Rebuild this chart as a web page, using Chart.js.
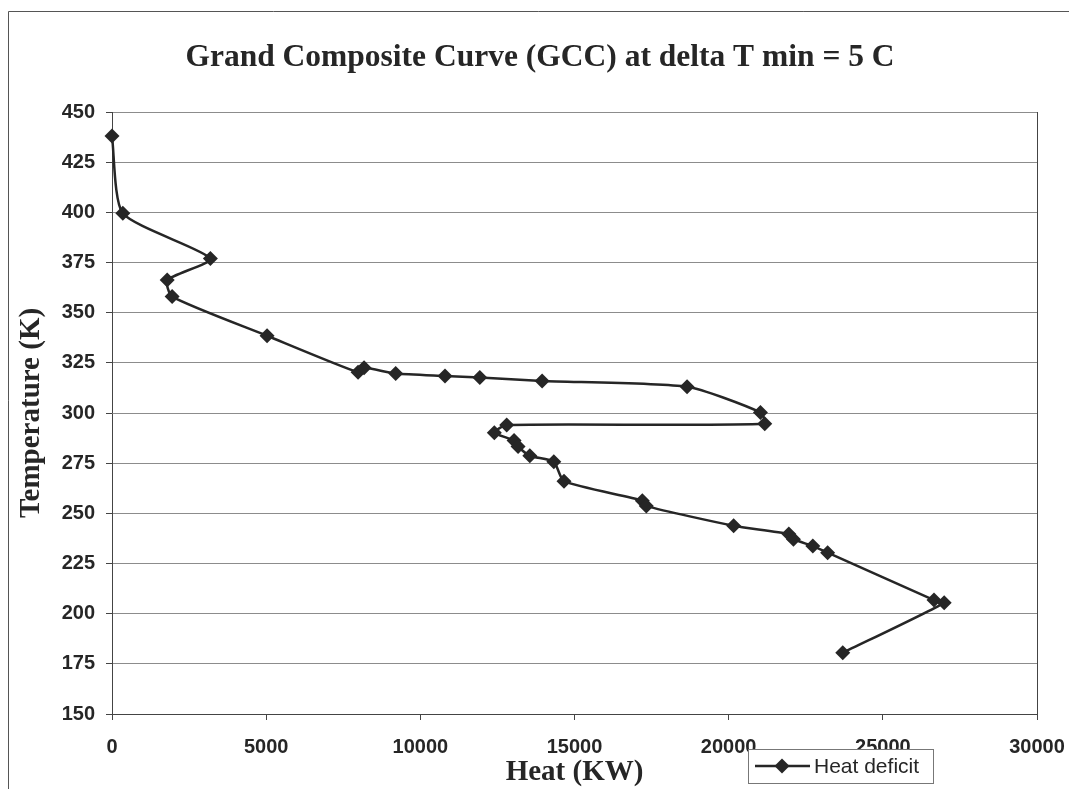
<!DOCTYPE html>
<html>
<head>
<meta charset="utf-8">
<title>Grand Composite Curve</title>
<script src="https://cdn.jsdelivr.net/npm/chart.js@4.4.0/dist/chart.umd.min.js"></script>
<style>
  html, body { margin: 0; padding: 0; background: #fff; }
  #chart { display: block; }
</style>
</head>
<body>
<canvas id="chart" width="1069" height="789"></canvas>
<script>
// values (heat in KW, temperature in K), in drawing order
const heatValues = [0, 350, 3190, 1790, 1950, 5030, 7980, 8175, 9200, 10800, 11930, 13950, 18650,
  21030, 21170, 12800, 12400, 13040, 13170, 13550, 14330, 14660, 17200, 17330, 20160,
  21950, 22100, 22730, 23210, 26660, 26990, 23700];
const tempValues = [438, 399.5, 377, 366.3, 358, 338.5, 320.3, 322.5, 319.7, 318.5, 317.7, 316, 313.1,
  300.3, 294.6, 294, 290.2, 286.3, 283.3, 278.7, 275.7, 266, 256.3, 253.6, 243.8,
  239.7, 237.1, 233.7, 230.4, 206.8, 205.4, 180.5];
const heatTicks = [0, 5000, 10000, 15000, 20000, 25000, 30000];
const tempTicks = [150, 175, 200, 225, 250, 275, 300, 325, 350, 375, 400, 425, 450];
const seriesName = 'Heat deficit';
const chartTitle = 'Grand Composite Curve (GCC) at delta T min = 5 C';

const points = heatValues.map((h, i) => ({ x: h, y: tempValues[i] }));

const ink = '#262626';
const serif = '"Liberation Serif", "Times New Roman", serif';
const sans = '"Liberation Sans", Arial, sans-serif';

// outer frame, title, right border of the plot and the boxed legend
const framePlugin = {
  id: 'frame',
  beforeDraw(chart) {
    const ctx = chart.ctx;
    ctx.save();
    ctx.fillStyle = '#fff';
    ctx.fillRect(0, 0, chart.width, chart.height);
    ctx.strokeStyle = '#555';
    ctx.lineWidth = 1;
    ctx.beginPath();
    ctx.moveTo(8.5, chart.height);
    ctx.lineTo(8.5, 11.5);
    ctx.lineTo(chart.width, 11.5);
    ctx.stroke();

    ctx.fillStyle = ink;
    ctx.font = 'bold 31.5px ' + serif;
    ctx.textAlign = 'center';
    ctx.textBaseline = 'alphabetic';
    ctx.fillText(chartTitle, 540, 66);
    ctx.restore();
  },
  afterDraw(chart) {
    const ctx = chart.ctx;
    const area = chart.chartArea;
    ctx.save();
    ctx.strokeStyle = '#444';
    ctx.lineWidth = 1;
    ctx.beginPath();
    ctx.moveTo(Math.round(area.right) + 0.5, area.top);
    ctx.lineTo(Math.round(area.right) + 0.5, area.bottom + 6);
    ctx.stroke();

    // legend box
    const bx = 748, by = 749, bw = 185, bh = 34;
    ctx.fillStyle = '#fff';
    ctx.fillRect(bx, by, bw, bh);
    ctx.strokeStyle = '#777';
    ctx.strokeRect(bx + 0.5, by + 0.5, bw, bh);
    const cy = by + bh / 2;
    ctx.strokeStyle = ink;
    ctx.lineWidth = 2.5;
    ctx.beginPath();
    ctx.moveTo(755, cy);
    ctx.lineTo(810, cy);
    ctx.stroke();
    ctx.fillStyle = ink;
    ctx.beginPath();
    ctx.moveTo(782, cy - 7.5);
    ctx.lineTo(789.5, cy);
    ctx.lineTo(782, cy + 7.5);
    ctx.lineTo(774.5, cy);
    ctx.closePath();
    ctx.fill();
    ctx.font = '21px ' + sans;
    ctx.textBaseline = 'middle';
    ctx.textAlign = 'left';
    ctx.fillText(chart.data.datasets[0].label, 814, cy + 1);
    ctx.restore();
  }
};

new Chart(document.getElementById('chart'), {
  type: 'line',
  data: {
    datasets: [
      {
        label: seriesName,
        data: points,
        borderColor: ink,
        borderWidth: 2.5,
        backgroundColor: ink,
        pointStyle: 'rectRot',
        pointRadius: 7.5,
        pointBackgroundColor: ink,
        pointBorderColor: ink,
        pointBorderWidth: 0,
        tension: 0.2,
        fill: false,
        clip: false,
      },
    ],
  },
  options: {
    responsive: false,
    animation: false,
    devicePixelRatio: 1,
    layout: { padding: { top: 112, left: 0, right: 32, bottom: 0 } },
    plugins: {
      legend: { display: false },
      tooltip: { enabled: false },
      title: { display: false },
    },
    scales: {
      x: {
        type: 'linear',
        min: 0,
        max: 30000,
        afterBuildTicks(scale) {
          scale.ticks = heatTicks.map((v) => ({ value: v }));
        },
        afterFit(scale) {
          scale.height = 75;
          scale.paddingLeft = 0;
          scale.paddingRight = 0;
        },
        ticks: {
          color: ink,
          font: { family: sans, size: 20, weight: 'bold', lineHeight: 1 },
          padding: 17,
          maxRotation: 0,
          autoSkip: false,
          callback: (v) => String(v),
        },
        grid: {
          drawOnChartArea: false,
          drawTicks: true,
          tickLength: 6,
          color: '#444',
        },
        border: { color: '#444', width: 1 },
        title: {
          display: true,
          text: 'Heat (KW)',
          color: ink,
          font: { family: serif, size: 29, weight: 'bold', lineHeight: 1 },
          padding: { top: 0, bottom: 2 },
        },
      },
      y: {
        type: 'linear',
        min: 150,
        max: 450,
        afterBuildTicks(scale) {
          scale.ticks = tempTicks.map((v) => ({ value: v }));
        },
        afterFit(scale) {
          scale.width = 112;
          scale.paddingTop = 0;
          scale.paddingBottom = 0;
        },
        ticks: {
          color: ink,
          font: { family: sans, size: 20, weight: 'bold' },
          padding: 11,
          autoSkip: false,
          callback: (v) => String(v),
        },
        grid: {
          color: '#8c8c8c',
          lineWidth: 1,
          tickLength: 6,
          tickColor: '#444',
        },
        border: { color: '#444', width: 1 },
        title: {
          display: true,
          text: 'Temperature (K)',
          color: ink,
          font: { family: serif, size: 29, weight: 'bold', lineHeight: 1.2 },
          padding: { top: 14, bottom: 0 },
        },
      },
    },
  },
  plugins: [framePlugin],
});
</script>
</body>
</html>
